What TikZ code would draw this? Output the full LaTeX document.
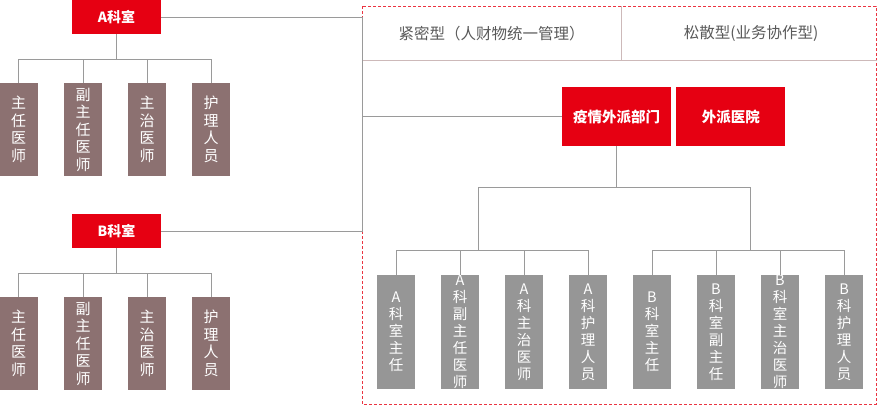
\documentclass[tikz,border=0pt]{standalone}
\usepackage{fontspec}
\setmainfont{Noto Sans CJK SC}
\usetikzlibrary{positioning}

\definecolor{deptred}{HTML}{E60012}
\definecolor{rolebrown}{HTML}{8C7171}
\definecolor{postgrey}{HTML}{969696}
\definecolor{linkgrey}{HTML}{9A9A9A}
\definecolor{cellline}{HTML}{CDB9B9}
\definecolor{headtext}{HTML}{595959}

\begin{document}
\begin{tikzpicture}[
	x=1pt, y=-1pt,
	dept/.style={fill=deptred, text=white, minimum width=89pt, minimum height=34pt, inner sep=0pt, font=\fontsize{14}{16}\selectfont\bfseries},
	role/.style={fill=rolebrown, text=white, minimum width=38pt, minimum height=93pt, inner sep=0pt, align=center, font=\fontsize{15}{17.5}\selectfont},
	post/.style={fill=postgrey, text=white, minimum width=38pt, minimum height=114pt, inner sep=0pt, align=center, font=\fontsize{14.5}{17}\selectfont},
	hosp/.style={fill=deptred, text=white, minimum width=109pt, minimum height=59pt, inner sep=0pt, font=\fontsize{14.5}{16}\selectfont\bfseries},
	header/.style={text=headtext, minimum width=259pt, minimum height=54pt, inner sep=0pt, font=\fontsize{15.5}{17}\selectfont},
	link/.style={draw=linkgrey, line width=1pt},
	cell/.style={draw=cellline, line width=1pt}
	]
	\useasboundingbox (0,0) rectangle (877,408);
	
	% ======================
	% A科室
	% ======================
	\node[dept] (A) at (116.5,17) {A科室};
	
	\node[role] (a1) at (18.5,129.5) {主\\任\\医\\师};
	\node[role] (a2) at (83,129.5) {副\\主\\任\\医\\师};
	\node[role] (a3) at (147,129.5) {主\\治\\医\\师};
	\node[role] (a4) at (211,129.5) {护\\理\\人\\员};
	
	\coordinate (abus) at (116.5,59);
	\foreach \c in {a1,a2,a3,a4}
		\draw[link] (A.south) -- (abus) -| (\c.north);
	
	% ======================
	% B科室
	% ======================
	\node[dept] (B) at (116.5,231) {B科室};
	
	\node[role] (b1) at (18.5,343.5) {主\\任\\医\\师};
	\node[role] (b2) at (83,343.5) {副\\主\\任\\医\\师};
	\node[role] (b3) at (147,343.5) {主\\治\\医\\师};
	\node[role] (b4) at (211,343.5) {护\\理\\人\\员};
	
	\coordinate (bbus) at (116.5,273);
	\foreach \c in {b1,b2,b3,b4}
		\draw[link] (B.south) -- (bbus) -| (\c.north);
	
	% ======================
	% 外派区域 (虚线框)
	% ======================
	\coordinate (fnw) at (362,6);
	\coordinate (fse) at (876,404);
	\draw[deptred!80, line width=1pt, dash pattern=on 3pt off 2pt] (fnw) rectangle (fse);
	
	\node[header, anchor=north west] (h1) at (fnw) {紧密型（人财物统一管理）};
	\node[header, right=0pt of h1] (h2) {松散型(业务协作型)};
	\draw[cell] (h1.south west) -- (h2.south east |- h1.south);
	\draw[cell] (h1.north east) -- (h1.south east);
	
	\node[hosp] (P) at (616.5,116.5) {疫情外派部门};
	\node[hosp, right=5pt of P] (H) {外派医院};
	
	% Verbindung der Ebenen
	\draw[link] (A.east) -| (fnw |- B.east) -- (B.east);
	\draw[link] (P.west) -- (P.west -| fnw);
	
	% ======================
	% 外派岗位
	% ======================
	\node[post] (pa1) at (396,332) {A\\科\\室\\主\\任};
	\node[post] (pa2) at (460,332) {A\\科\\副\\主\\任\\医\\师};
	\node[post] (pa3) at (524,332) {A\\科\\主\\治\\医\\师};
	\node[post] (pa4) at (588,332) {A\\科\\护\\理\\人\\员};
	\node[post] (pb1) at (652,332) {B\\科\\室\\主\\任};
	\node[post] (pb2) at (716,332) {B\\科\\室\\副\\主\\任};
	\node[post] (pb3) at (780,332) {B\\科\\室\\主\\治\\医\\师};
	\node[post] (pb4) at (844,332) {B\\科\\护\\理\\人\\员};
	
	\coordinate (pbus) at (616.5,187);
	\coordinate (gA) at (478,250);
	\coordinate (gB) at (750,250);
	\draw[link] (P.south) -- (pbus) -| (gA);
	\draw[link] (pbus) -| (gB);
	\foreach \c in {pa1,pa2,pa3,pa4}
		\draw[link] (gA) -| (\c.north);
	\foreach \c in {pb1,pb2,pb3,pb4}
		\draw[link] (gB) -| (\c.north);
	
\end{tikzpicture}
\end{document}
